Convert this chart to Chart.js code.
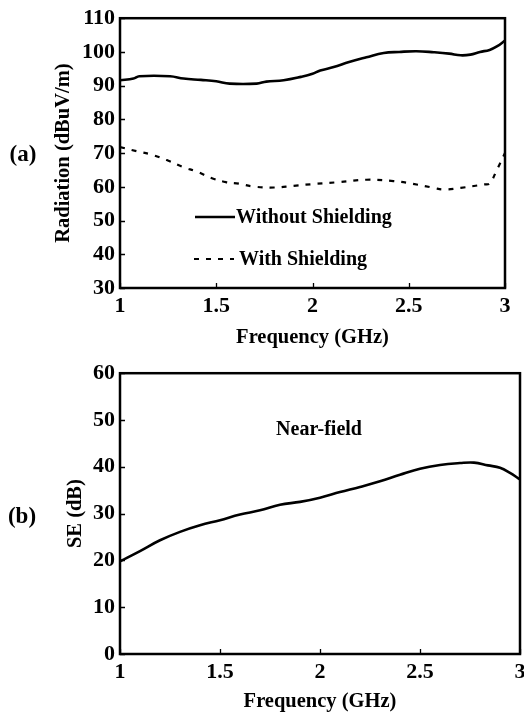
<!DOCTYPE html>
<html>
<head>
<meta charset="utf-8">
<script src="https://cdn.jsdelivr.net/npm/chart.js@4.4.1/dist/chart.umd.min.js"></script>
<style>
  html, body { margin: 0; padding: 0; background: #fff; overflow: hidden; }
  body { width: 524px; height: 715px; position: relative; }
  canvas { position: absolute; left: 0; }
  #chartA { top: 0; }
  #chartB { top: 355px; }
</style>
</head>
<body>
<canvas id="chartA" width="524" height="355"></canvas>
<canvas id="chartB" width="540" height="360"></canvas>
<script>
// (a) radiation, GHz vs dBuV/m
const freqWithout = [1.0, 1.07, 1.10, 1.26, 1.33, 1.42, 1.50, 1.57, 1.71, 1.76, 1.85, 1.94, 2.0, 2.04, 2.11, 2.19, 2.28, 2.37, 2.45, 2.54, 2.63, 2.71, 2.77, 2.82, 2.87, 2.92, 2.96, 3.0];
const withoutShielding = [91.6, 92.1, 92.8, 92.8, 92.1, 91.7, 91.3, 90.6, 90.6, 91.2, 91.6, 92.6, 93.5, 94.5, 95.5, 97.0, 98.4, 99.7, 100.0, 100.2, 99.9, 99.5, 99.0, 99.2, 100.0, 100.6, 101.7, 103.4];
const freqWith = [1.0, 1.09, 1.16, 1.24, 1.33, 1.40, 1.47, 1.55, 1.62, 1.69, 1.80, 1.90, 2.02, 2.14, 2.28, 2.42, 2.52, 2.63, 2.68, 2.77, 2.89, 2.92, 2.96, 3.0];
const withShielding = [71.8, 70.5, 69.6, 68.0, 65.8, 64.5, 62.7, 61.4, 60.9, 60.1, 59.8, 60.3, 60.9, 61.4, 62.1, 61.7, 60.9, 59.7, 59.2, 59.7, 60.7, 61.0, 65.3, 70.0];

// (b) near-field shielding effectiveness
const freqSE = [1.0, 1.1, 1.2, 1.3, 1.4, 1.5, 1.6, 1.7, 1.8, 1.9, 2.0, 2.1, 2.2, 2.3, 2.4, 2.5, 2.6, 2.7, 2.77, 2.84, 2.9, 2.95, 3.0];
const seNearField = [19.8, 22.0, 24.3, 26.1, 27.5, 28.6, 29.8, 30.7, 31.9, 32.5, 33.4, 34.6, 35.7, 36.9, 38.3, 39.6, 40.4, 40.8, 40.9, 40.3, 39.8, 38.7, 37.3];

const xTicks = [1, 1.5, 2, 2.5, 3];
const xTickLabels = ['1', '1.5', '2', '2.5', '3'];
const yTicksA = [30, 40, 50, 60, 70, 80, 90, 100, 110];
const yTicksB = [0, 10, 20, 30, 40, 50, 60];

const SERIF = '"Liberation Serif", "Times New Roman", serif';
const tickFont = { family: SERIF, size: 22, weight: 'bold' };
const titleFont = { family: SERIF, size: 20.5, weight: 'bold' };

const toPoints = (xs, ys) => xs.map((x, i) => ({ x, y: ys[i] }));

// box round the plot plus short inward ticks
const frame = {
  id: 'frame',
  afterDatasetsDraw(chart) {
    const { ctx, chartArea: a, scales: { x, y } } = chart;
    ctx.save();
    ctx.strokeStyle = '#000';
    ctx.lineWidth = 1.3;
    ctx.beginPath();
    y.ticks.forEach((t) => {
      const py = Math.round(y.getPixelForValue(t.value)) + 0.5;
      ctx.moveTo(a.left, py);
      ctx.lineTo(a.left + 5, py);
    });
    x.ticks.forEach((t) => {
      const px = Math.round(x.getPixelForValue(t.value)) + 0.5;
      ctx.moveTo(px, a.bottom);
      ctx.lineTo(px, a.bottom - 5);
    });
    ctx.stroke();
    ctx.lineWidth = 2.5;
    ctx.strokeRect(a.left, a.top, a.right - a.left, a.bottom - a.top);
    ctx.restore();
  },
};

// free text: panel letters, in-plot notes
const notes = {
  id: 'notes',
  afterDraw(chart, args, opts) {
    const { ctx } = chart;
    ctx.save();
    ctx.fillStyle = '#000';
    ctx.textBaseline = 'middle';
    (opts.items || []).forEach((n) => {
      ctx.font = `bold ${n.size}px ${SERIF}`;
      ctx.textAlign = n.align || 'center';
      ctx.fillText(n.text, n.x, n.y);
    });
    ctx.restore();
  },
};

// legend drawn inside the plot
const innerLegend = {
  id: 'innerLegend',
  afterDraw(chart, args, opts) {
    if (!opts.rows) return;
    const { ctx } = chart;
    ctx.save();
    chart.data.datasets.forEach((ds, i) => {
      const r = opts.rows[i];
      ctx.strokeStyle = ds.borderColor;
      ctx.lineWidth = ds.borderWidth;
      ctx.setLineDash(ds.borderDash || []);
      ctx.beginPath();
      ctx.moveTo(r.x0, r.y);
      ctx.lineTo(r.x1, r.y);
      ctx.stroke();
      ctx.setLineDash([]);
      ctx.fillStyle = '#000';
      ctx.font = `bold 20px ${SERIF}`;
      ctx.textAlign = 'left';
      ctx.textBaseline = 'middle';
      ctx.fillText(ds.label, r.tx, r.y + 1);
    });
    ctx.restore();
  },
};

function makeChart(canvas, cfg) {
  return new Chart(canvas, {
    type: 'line',
    data: { datasets: cfg.datasets },
    options: {
      responsive: false,
      animation: false,
      devicePixelRatio: 1,
      layout: { padding: cfg.padding },
      elements: { point: { radius: 0 }, line: { tension: 0.4 } },
      plugins: {
        legend: { display: false },
        tooltip: { enabled: false },
        notes: { items: cfg.notes },
        innerLegend: { rows: cfg.legendRows },
      },
      scales: {
        x: {
          type: 'linear',
          min: 1,
          max: 3,
          afterBuildTicks: (s) => { s.ticks = xTicks.map((v) => ({ value: v })); },
          afterFit: (s) => { s.height = cfg.xHeight; },
          grid: { display: false, drawTicks: false },
          border: { display: false },
          ticks: {
            padding: 5,
            color: '#000',
            font: tickFont,
            maxRotation: 0,
            autoSkip: false,
            callback: (v, i) => xTickLabels[i],
          },
          title: {
            display: true,
            text: 'Frequency (GHz)',
            color: '#000',
            font: titleFont,
            padding: { top: 0, bottom: cfg.xTitlePad },
          },
        },
        y: {
          type: 'linear',
          min: cfg.yTicks[0],
          max: cfg.yTicks[cfg.yTicks.length - 1],
          afterBuildTicks: (s) => { s.ticks = cfg.yTicks.map((v) => ({ value: v })); },
          afterFit: (s) => { s.width = 120; },
          grid: { display: false, drawTicks: false },
          border: { display: false },
          ticks: { padding: 5, color: '#000', font: tickFont, autoSkip: false },
          title: {
            display: true,
            text: cfg.yTitle,
            color: '#000',
            font: titleFont,
            padding: { top: cfg.yTitlePad, bottom: 0 },
          },
        },
      },
    },
    plugins: [frame, notes, innerLegend],
  });
}

makeChart(document.getElementById('chartA'), {
  datasets: [
    {
      label: 'Without Shielding',
      data: toPoints(freqWithout, withoutShielding),
      borderColor: '#000',
      borderWidth: 2.6,
    },
    {
      label: 'With Shielding',
      data: toPoints(freqWith, withShielding),
      borderColor: '#000',
      borderWidth: 2.2,
      borderDash: [5, 7],
    },
  ],
  yTicks: yTicksA,
  yTitle: 'Radiation (dBuV/m)',
  yTitlePad: 51,
  xTitlePad: 5,
  xHeight: 67,
  padding: { left: 0, top: 17, right: 19, bottom: 0 },
  notes: [{ text: '(a)', x: 23, y: 155, size: 23 }],
  legendRows: [
    { x0: 195, x1: 235, tx: 236, y: 217 },
    { x0: 194, x1: 234, tx: 239, y: 259 },
  ],
});

makeChart(document.getElementById('chartB'), {
  datasets: [
    {
      label: 'Near-field',
      data: toPoints(freqSE, seNearField),
      borderColor: '#000',
      borderWidth: 2.6,
    },
  ],
  yTicks: yTicksB,
  yTitle: 'SE (dB)',
  yTitlePad: 63,
  xTitlePad: 1,
  xHeight: 61,
  padding: { left: 0, top: 17, right: 20, bottom: 0 },
  notes: [
    { text: '(b)', x: 22, y: 162, size: 23 },
    { text: 'Near-field', x: 319, y: 75, size: 20 },
  ],
});
</script>
</body>
</html>
